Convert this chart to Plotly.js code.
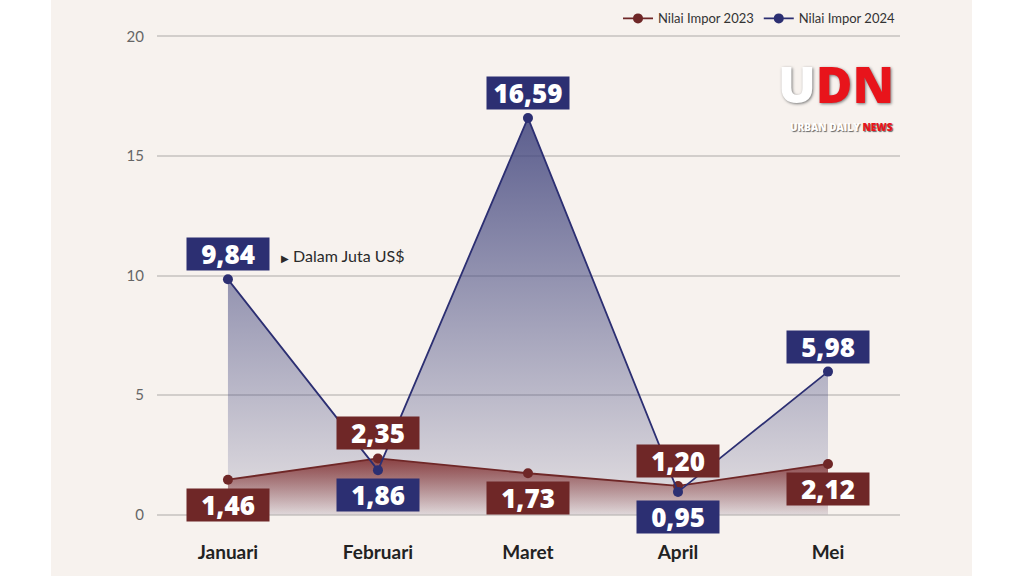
<!DOCTYPE html>
<html>
<head>
<meta charset="utf-8">
<script src="https://cdn.plot.ly/plotly-3.0.1.min.js"></script>
<style>html,body{margin:0;padding:0;background:#fff;}#chart{width:1024px;height:576px;}</style>
</head>
<body>
<div id="chart"></div>
<script>
const months = ['Januari', 'Februari', 'Maret', 'April', 'Mei'];
const impor2023 = [1.46, 2.35, 1.73, 1.20, 2.12];
const impor2024 = [9.84, 1.86, 16.59, 0.95, 5.98];
const yTicks = [0, 5, 10, 15, 20];
const seriesNames = ['Nilai Impor 2023', 'Nilai Impor 2024'];

const navy = '#2c2f72';
const maroon = '#6f2727';
const fmt = v => v.toFixed(2).replace('.', ',');

const traces = [
  { x: months, y: impor2024, type: 'scatter', mode: 'none', fill: 'tozeroy', showlegend: false, hoverinfo: 'skip',
    fillgradient: { type: 'vertical', start: 0, stop: 16.59,
      colorscale: [[0, 'rgba(64,68,125,0.10)'], [1, 'rgba(64,68,125,0.85)']] } },
  { x: months, y: impor2023, type: 'scatter', mode: 'none', fill: 'tozeroy', showlegend: false, hoverinfo: 'skip',
    fillgradient: { type: 'vertical', start: 0, stop: 2.35,
      colorscale: [[0, 'rgba(125,40,40,0.05)'], [1, 'rgba(125,40,40,0.85)']] } },
  { x: months, y: impor2023, type: 'scatter', mode: 'lines+markers', name: seriesNames[0],
    line: { color: maroon, width: 1.8 }, marker: { color: maroon, size: 10 } },
  { x: months, y: impor2024, type: 'scatter', mode: 'lines+markers', name: seriesNames[1],
    line: { color: navy, width: 1.8 }, marker: { color: navy, size: 10 } }
];

const annotations = [];
function addLabels(vals, other, color) {
  vals.forEach((v, i) => {
    const above = v >= other[i];
    annotations.push({
      x: months[i], y: v, xref: 'x', yref: 'y', text: fmt(v), showarrow: false,
      yshift: above ? 25 : -25, bgcolor: color, width: 80, height: 30,
      font: { family: 'Open Sans', size: 26, color: '#fff', weight: 800 }
    });
  });
}
addLabels(impor2023, impor2024, maroon);
addLabels(impor2024, impor2023, navy);

annotations.push({
  x: months[0], y: impor2024[0], xref: 'x', yref: 'y', xanchor: 'left', showarrow: false,
  xshift: 51, yshift: 24,
  text: "<span style='font-size:10px'>▶</span> Dalam Juta US$",
  font: { family: 'Lato', size: 16, color: '#2a2a2a' }
});

// logo (paper coords: plot area 157..900 x, 33.6..517.4 y)
const px = v => (v - 157) / 743;
const py = v => (517.4 - v) / 483.8;
annotations.push({
  xref: 'paper', yref: 'paper', x: px(895), y: py(84), xanchor: 'right', yanchor: 'middle', showarrow: false,
  borderpad: 0,
  text: "<span style='color:#ffffff'>U</span><span style='color:#e8141b'>DN</span>",
  font: { family: 'Open Sans', size: 50, weight: 800, shadow: '1px 1px 3px #777' }
});
annotations.push({
  xref: 'paper', yref: 'paper', x: px(894), y: py(127), xanchor: 'right', yanchor: 'middle', showarrow: false,
  borderpad: 0,
  text: "<span style='color:#ffffff'>URBAN DAILY </span><span style='color:#e8141b'>NEWS</span>",
  font: { family: 'Open Sans', size: 10, weight: 800, shadow: '1px 1px 1px #666' }
});

const layout = {
  width: 1024, height: 576,
  margin: { l: 157, r: 124, t: 33.6, b: 58.6, autoexpand: false },
  paper_bgcolor: '#ffffff',
  plot_bgcolor: 'rgba(0,0,0,0)',
  font: { family: 'Lato', color: '#333' },
  showlegend: true,
  legend: { orientation: 'h', x: 1, xanchor: 'right', y: py(18), yanchor: 'middle',
    font: { family: 'Lato', size: 13, color: '#333' }, bgcolor: 'rgba(0,0,0,0)' },
  xaxis: { type: 'category', range: [-0.473, 4.48], showgrid: false, zeroline: false, showline: false,
    ticks: '', ticklabelstandoff: 22,
    tickfont: { family: 'Lato', size: 19, color: '#222', weight: 700 } },
  yaxis: { range: [-0.1, 20.1], tickvals: yTicks, ticktext: yTicks.map(String),
    showgrid: true, gridcolor: '#d2cecb', gridwidth: 2, zeroline: false, showline: false,
    ticks: '', ticklabelstandoff: 12,
    tickfont: { family: 'Lato', size: 15, color: '#666' } },
  shapes: [{ type: 'rect', xref: 'paper', yref: 'paper', layer: 'below',
    x0: px(51), x1: px(972), y0: -0.2, y1: 1.2, fillcolor: '#f7f2ee', line: { width: 0 } }],
  annotations: annotations
};

Plotly.newPlot('chart', traces, layout, { displayModeBar: false, staticPlot: true });
</script>
</body>
</html>
